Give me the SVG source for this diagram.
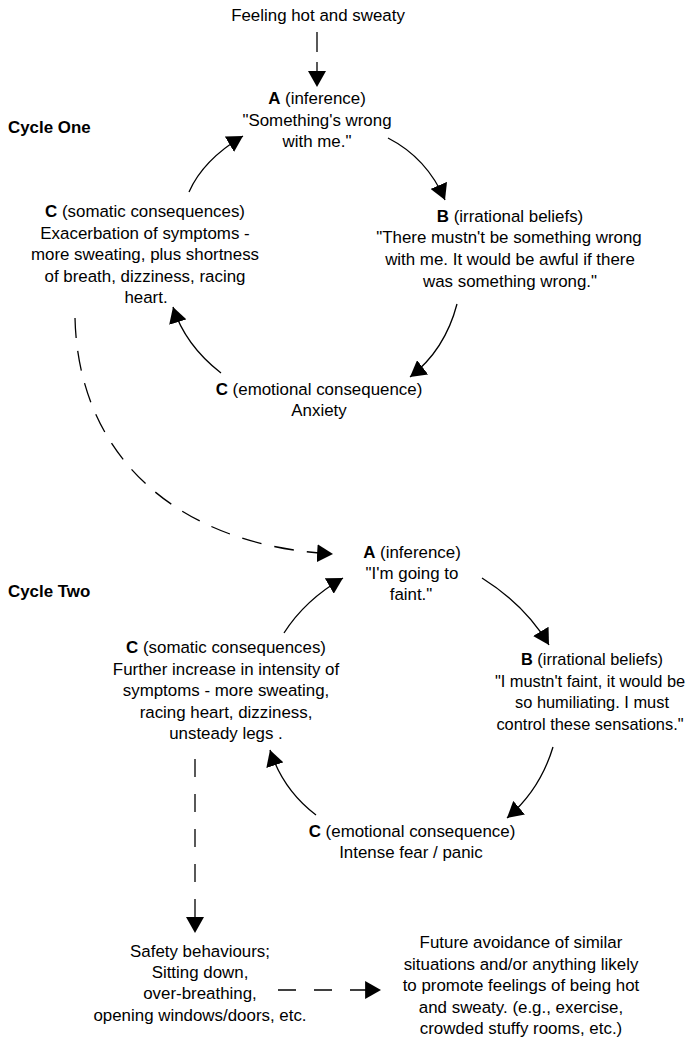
<svg xmlns="http://www.w3.org/2000/svg" width="690" height="1039" viewBox="0 0 690 1039">
<style>
text{font-family:"Liberation Sans",Arial,sans-serif;font-size:16.9px;fill:#000;text-anchor:middle}
.b{font-weight:bold}
.sm{font-size:16.4px}
.title{font-weight:bold;text-anchor:start}
.ln{fill:none;stroke:#000;stroke-width:1.3}
.d1{stroke-dasharray:20 10}
.d2{stroke-dasharray:20 13}
.d3{stroke-dasharray:18 17}
.d4{stroke-dasharray:18 18}
</style>
<defs>
<marker id="ah" markerUnits="userSpaceOnUse" markerWidth="16" markerHeight="18" refX="15" refY="8.5" orient="auto" viewBox="0 0 15 17">
<path d="M0,0 L15,8.5 L0,17 z" fill="#000"/>
</marker>
</defs>
<rect width="690" height="1039" fill="#fff"/>
<g id="title1"><text class="title" x="8" y="133">Cycle One</text></g>
<g id="title2"><text class="title" x="8" y="597">Cycle Two</text></g>
<g id="trigger"><text x="318" y="21">Feeling hot and sweaty</text></g>
<g id="a1">
<text x="317" y="104"><tspan class="b">A</tspan> (inference)</text>
<text x="317" y="126">"Something's wrong</text>
<text x="317" y="147">with me."</text>
</g>
<g id="b1">
<text x="510" y="222"><tspan class="b">B</tspan> (irrational beliefs)</text>
<text x="509" y="243">"There mustn't be something wrong</text>
<text x="510" y="265">with me. It would be awful if there</text>
<text x="510" y="287">was something wrong."</text>
</g>
<g id="c1emo">
<text x="319" y="395"><tspan class="b">C</tspan> (emotional consequence)</text>
<text x="319" y="416">Anxiety</text>
</g>
<g id="c1som">
<text x="145" y="217"><tspan class="b">C</tspan> (somatic consequences)</text>
<text x="145" y="239">Exacerbation of symptoms -</text>
<text x="145" y="260">more sweating, plus shortness</text>
<text x="145" y="282">of breath, dizziness, racing</text>
<text x="146" y="303">heart.</text>
</g>
<g id="a2">
<text x="412" y="558"><tspan class="b">A</tspan> (inference)</text>
<text x="412" y="579">"I'm going to</text>
<text x="411" y="600">faint."</text>
</g>
<g id="b2">
<text class="sm" x="592" y="665"><tspan class="b">B</tspan> (irrational beliefs)</text>
<text class="sm" x="590" y="687">"I mustn't faint, it would be</text>
<text class="sm" x="592" y="708">so humiliating.  I must</text>
<text class="sm" x="590" y="730">control these sensations."</text>
</g>
<g id="c2emo">
<text x="412" y="837"><tspan class="b">C</tspan> (emotional consequence)</text>
<text x="411" y="858">Intense fear / panic</text>
</g>
<g id="c2som">
<text x="226" y="653"><tspan class="b">C</tspan> (somatic consequences)</text>
<text x="226" y="675">Further increase in intensity of</text>
<text x="226" y="696">symptoms - more sweating,</text>
<text x="226" y="718">racing heart, dizziness,</text>
<text x="226" y="739">unsteady legs .</text>
</g>
<g id="safety">
<text x="200" y="957">Safety behaviours;</text>
<text x="200" y="978">Sitting down,</text>
<text x="200" y="999">over-breathing,</text>
<text x="200" y="1021">opening windows/doors, etc.</text>
</g>
<g id="avoid">
<text x="521" y="948">Future avoidance of similar</text>
<text x="521" y="970">situations and/or anything likely</text>
<text x="521" y="991">to promote feelings of being hot</text>
<text x="521" y="1013">and sweaty. (e.g., exercise,</text>
<text x="521" y="1034">crowded stuffy rooms, etc.)</text>
</g>
<g id="connectors">
<path class="ln d1" d="M317,32 L317,87" marker-end="url(#ah)"/>
<path class="ln" d="M189,192 Q203,160 243,136" marker-end="url(#ah)"/>
<path class="ln" d="M388,138 Q427,158 445,200" marker-end="url(#ah)"/>
<path class="ln" d="M457,304 Q445,350 410,377" marker-end="url(#ah)"/>
<path class="ln" d="M221,373 Q185,345 173,307" marker-end="url(#ah)"/>
<path class="ln d2" d="M75,318 C78,450 170,545 333,554" marker-end="url(#ah)"/>
<path class="ln" d="M284,633 Q305,600 343,578" marker-end="url(#ah)"/>
<path class="ln" d="M482,578 Q525,605 549,645" marker-end="url(#ah)"/>
<path class="ln" d="M553,747 Q540,790 507,818" marker-end="url(#ah)"/>
<path class="ln" d="M316,815 Q283,790 270,750" marker-end="url(#ah)"/>
<path class="ln d3" d="M195,759 L195,933" marker-end="url(#ah)"/>
<path class="ln d4" d="M278,990 L381,990" marker-end="url(#ah)"/>
</g>
</svg>
